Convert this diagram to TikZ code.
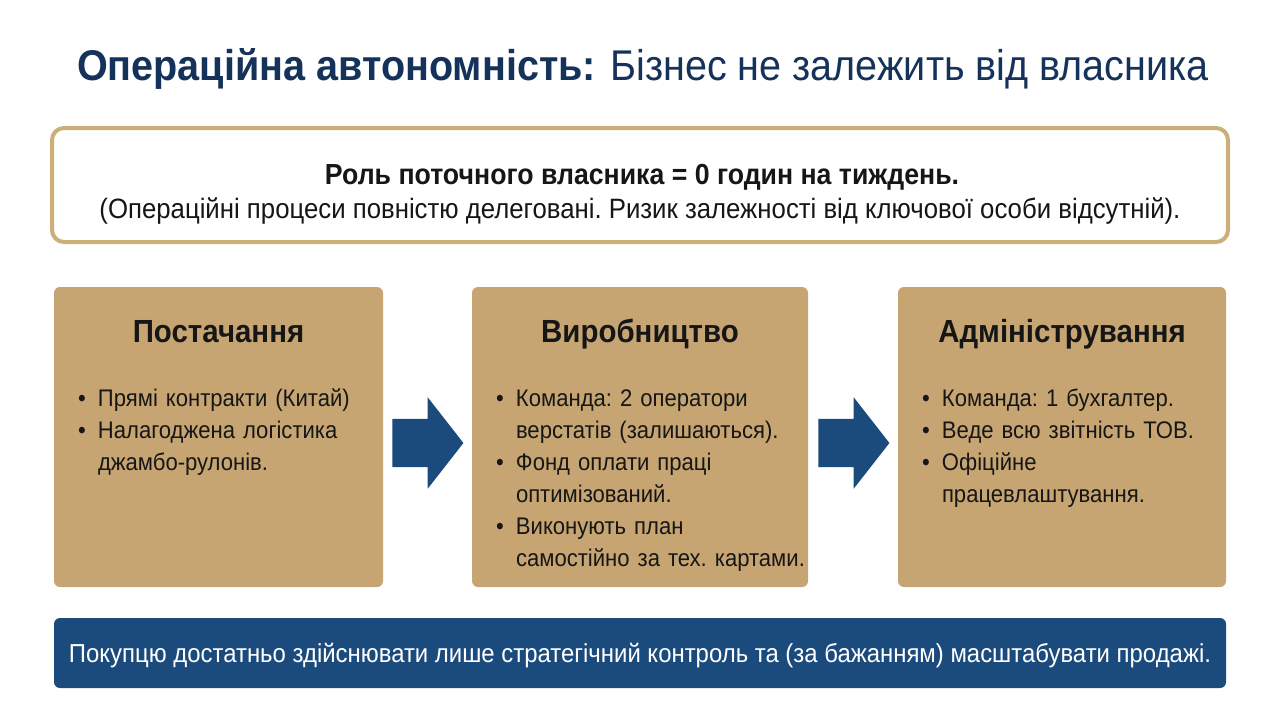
\documentclass[tikz,border=0pt]{standalone}
\usepackage{fontspec}
\setmainfont{Liberation Sans}[FakeStretch=0.92]
\usetikzlibrary{positioning,calc,shapes.arrows}
\definecolor{navy}{HTML}{15325A}
\definecolor{barblue}{HTML}{1B4A7D}
\definecolor{sand}{HTML}{C6A572}
\definecolor{sandedge}{HTML}{CBAE78}
\definecolor{ink}{HTML}{161616}
\newcommand{\bitem}[1]{\hangindent=20pt\hangafter=1\noindent\makebox[20pt][l]{\textbullet}#1\par}
\tikzset{
  stagebox/.style={fill=sand,rounded corners=6pt,minimum height=300pt,inner sep=0pt},
  stagetitle/.style={anchor=base,font=\fontsize{32}{36}\selectfont\bfseries,text=ink,inner sep=0pt},
  stagelist/.style={anchor=base west,text width=310pt,align=left,inner sep=0pt,
    font=\fontsize{24}{32}\selectfont\frenchspacing,text=ink},
  flowarrow/.style={single arrow,fill=barblue,draw=none,minimum height=71pt,
    inner xsep=0pt,inner ysep=24pt,single arrow head extend=21.5pt,
    single arrow tip angle=104,anchor=tail},
}
\begin{document}
\begin{tikzpicture}[x=1pt,y=-1pt]
  \fill[white] (0,0) rectangle (1280,715);
  \useasboundingbox (0,0) rectangle (1280,715);
  % title
  \node[anchor=base,inner sep=0pt,text=navy,font=\fontsize{43}{48}\selectfont] (title) at (643,80)
    {\textbf{Операційна автономність:} Бізнес не залежить від власника};
  % owner role
  \node[draw=sandedge,line width=4pt,rounded corners=12pt,fill=white,
    minimum width=1176pt,minimum height=114pt] (role) at (640,185) {};
  \node[anchor=base,inner sep=0pt,text=ink,font=\fontsize{29}{32}\selectfont\bfseries] (roletop) at (642,184)
    {Роль поточного власника = 0 годин на тиждень.};
  \node[anchor=base,inner sep=0pt,text=ink,font=\fontsize{28}{32}\selectfont\frenchspacing] (rolesub) at (640,218)
    {(Операційні процеси повністю делеговані. Ризик залежності від ключової особи відсутній).};
  % stages
  \node[stagebox,minimum width=329pt] (sup) at (218.5,437) {};
  \node[stagebox,minimum width=336pt] (prod) at (640,437) {};
  \node[stagebox,minimum width=328pt] (adm) at (1062,437) {};
  \node[stagetitle] (suptitle) at ($(sup.north)+(0,56)$) {Постачання};
  \node[stagetitle] (prodtitle) at ($(prod.north)+(0,56)$) {Виробництво};
  \node[stagetitle] (admtitle) at ($(adm.north)+(0,56)$) {Адміністрування};
  \node[stagelist] (suplist) at ($(sup.north west)+(24,120)$)
    {\bitem{Прямі контракти (Китай)}\bitem{Налагоджена логістика\newline джамбо-рулонів.}};
  \node[stagelist] (prodlist) at ($(prod.north west)+(24,120)$)
    {\bitem{Команда: 2 оператори\newline верстатів (залишаються).}\bitem{Фонд оплати праці\newline оптимізований.}%
     \bitem{Виконують план\newline самостійно за тех. картами.}};
  \node[stagelist] (admlist) at ($(adm.north west)+(24,120)$)
    {\bitem{Команда: 1 бухгалтер.}\bitem{Веде всю звітність ТОВ.}\bitem{Офіційне\newline працевлаштування.}};
  \node[flowarrow] (arr1) at ($(sup.east)+(9,6)$) {};
  \node[flowarrow] (arr2) at ($(prod.east)+(10,6)$) {};
  % buyer note
  \node[fill=barblue,rounded corners=6pt,minimum width=1172pt,minimum height=70pt] (buyer) at (640,653) {};
  \node[anchor=base,inner sep=0pt,text=white,font=\fontsize{26}{32}\selectfont] (buyertext) at (640,662)
    {Покупцю достатньо здійснювати лише стратегічний контроль та (за бажанням) масштабувати продажі.};
\end{tikzpicture}
\end{document}
